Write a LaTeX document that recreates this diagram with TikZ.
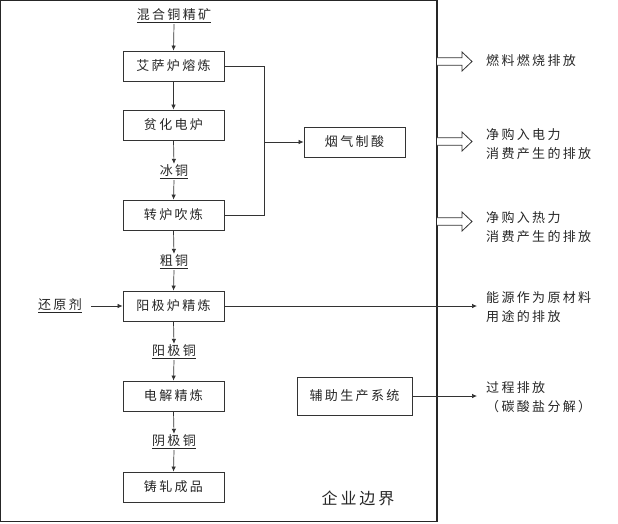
\documentclass[tikz,border=0pt]{standalone}
\usepackage{fontspec}
\setmainfont{Noto Sans CJK SC}[LetterSpace=18]
\usetikzlibrary{arrows.meta,calc}
\begin{document}
\begin{tikzpicture}[x=1pt,y=-1pt,
  every node/.style={font=\fontsize{13}{19}\selectfont, text=black!85},
  proc/.style={draw=black!80, line width=0.8pt, minimum width=101pt, minimum height=30pt, inner sep=0pt},
  lab/.style={inner sep=1pt},
  rlab/.style={anchor=west, align=left, inner sep=0pt},
  flow/.style={draw=black!80, line width=0.7pt, -{Latex[length=5pt,width=4.5pt]}},
  line/.style={draw=black!80, line width=0.7pt},
  hollow/.style={draw=black!80, line width=0.8pt, fill=white}]
\useasboundingbox (0,0) rectangle (618,523);
% enterprise boundary
\draw[black!85, line width=1.2pt] (0.6,0.6) rectangle (437,521.4);
% main column
\node[lab] (mix) at (174,16) {\underline{混合铜精矿}};
\node[proc] (isa) at (173.5,66) {艾萨炉熔炼};
\node[proc] (pin) at (173.5,125) {贫化电炉};
\node[lab] (bt) at (174,172) {\underline{冰铜}};
\node[proc] (zl) at (173.5,215) {转炉吹炼};
\node[lab] (ct) at (174,262) {\underline{粗铜}};
\node[proc] (yj) at (173.5,306) {阳极炉精炼};
\node[lab] (yjt) at (174,352) {\underline{阳极铜}};
\node[proc] (dj) at (173.5,396) {电解精炼};
\node[lab] (yint) at (174,442) {\underline{阴极铜}};
\node[proc] (zz) at (173.5,487) {铸轧成品};
\node[lab] (hy) at (60,306) {\underline{还原剂}};
\node[proc] (yq) at (354.5,142) {烟气制酸};
\node[proc, minimum width=115pt, minimum height=38pt] (fz) at (354.5,396) {辅助生产系统};
\node[font=\fontsize{16}{19}\selectfont] (qy) at (358,498) {企业边界};
% flows
\draw[flow] (mix.south) -- (isa.north);
\draw[flow] (isa.south) -- (pin.north);
\draw[flow] (pin.south) -- (bt.north);
\draw[flow] (bt.south) -- (zl.north);
\draw[flow] (zl.south) -- (ct.north);
\draw[flow] (ct.south) -- (yj.north);
\draw[flow] (yj.south) -- (yjt.north);
\draw[flow] (yjt.south) -- (dj.north);
\draw[flow] (dj.south) -- (yint.north);
\draw[flow] (yint.south) -- (zz.north);
\draw[flow] (hy.east) ++(8,0) coordinate (hye) -- (yj.west);
% flue gas
\coordinate (fa) at (264,66);
\coordinate (fb) at (264,215);
\coordinate (fm) at (264,142);
\draw[line] (isa.east) -- (fa) -- (fb) -- (zl.east);
\draw[flow] (fm) -- (yq.west);
% outputs
\coordinate (o1) at (477,306);
\coordinate (o2) at (477,396);
\draw[flow] (yj.east) -- (o1);
\draw[flow] (fz.east) -- (o2);
% hollow arrows
\foreach \yy in {61.5,141.5,221.5}{
  \draw[hollow] (437,\yy-3.8) -- (462,\yy-3.8) -- (462,\yy-9.5) -- (472,\yy) -- (462,\yy+9.5) -- (462,\yy+3.8) -- (437,\yy+3.8);
}
% right labels
\node[rlab] (r1) at (486,61) {燃料燃烧排放};
\node[rlab] (r2) at (486,144) {净购入电力\\消费产生的排放};
\node[rlab] (r3) at (486,227) {净购入热力\\消费产生的排放};
\node[rlab] (r4) at (486,307) {能源作为原材料\\用途的排放};
\node[rlab] (r5) at (486,397) {过程排放\\（碳酸盐分解）};
\end{tikzpicture}
\end{document}
